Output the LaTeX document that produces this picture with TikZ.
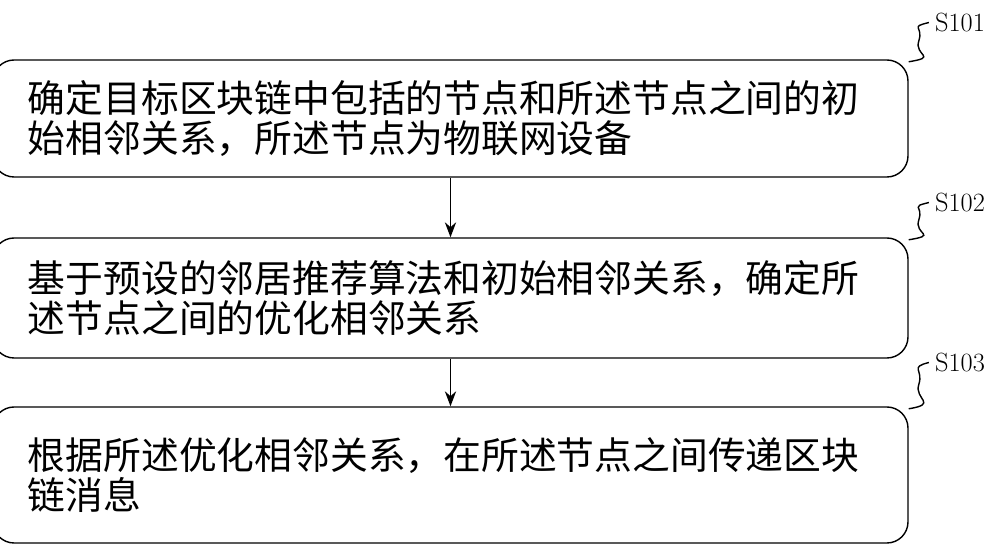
\documentclass[tikz,border=0pt]{standalone}
\usepackage{fontspec}
\newfontfamily\cjk{Noto Sans CJK SC}
\usetikzlibrary{arrows.meta, calc, positioning}

\begin{document}
\begin{tikzpicture}[stepbox/.style={draw, thick, rounded corners=12pt, minimum width=17.7cm, text width=16.9cm, align=left, inner xsep=0.7cm, font=\cjk\fontsize{21.5}{23}\selectfont},
	tag/.style={font=\fontsize{15}{17}\selectfont}]
				\useasboundingbox (0,0) rectangle (20,11);
				
				\node[stepbox, minimum height=2.34cm] (s1) at (9.01,8.63) {确定目标区块链中包括的节点和所述节点之间的初\\始相邻关系，所述节点为物联网设备};
				\node[stepbox, minimum height=2.4cm] (s2) at (9.01,5.04) {基于预设的邻居推荐算法和初始相邻关系，确定所\\述节点之间的优化相邻关系};
				\node[stepbox, minimum height=2.72cm] (s3) at (9.01,1.5) {根据所述优化相邻关系，在所述节点之间传递区块\\链消息};
				
				\node[tag] (t1) at (19.2,10.55) {S101};
				\node[tag] (t2) at (19.2,6.95) {S102};
				\node[tag] (t3) at (19.2,3.75) {S103};
				
				\draw[thick, -{Stealth[length=3mm]}] (s1) -- (s2);
				\draw[thick, -{Stealth[length=3mm]}] (s2) -- (s3);
				
				\foreach \b/\t in {s1/t1, s2/t2, s3/t3}
				\draw[thick] ($(\b.north east)+(0,-0.05)$) .. controls +(0.6,0.1) and +(-0.1,-0.3) .. ($(\b.north east)!0.5!(\t.west)$) .. controls +(0.1,0.3) and +(-0.4,-0.1) .. (\t.west);
				
				\end{tikzpicture}
\end{document}
